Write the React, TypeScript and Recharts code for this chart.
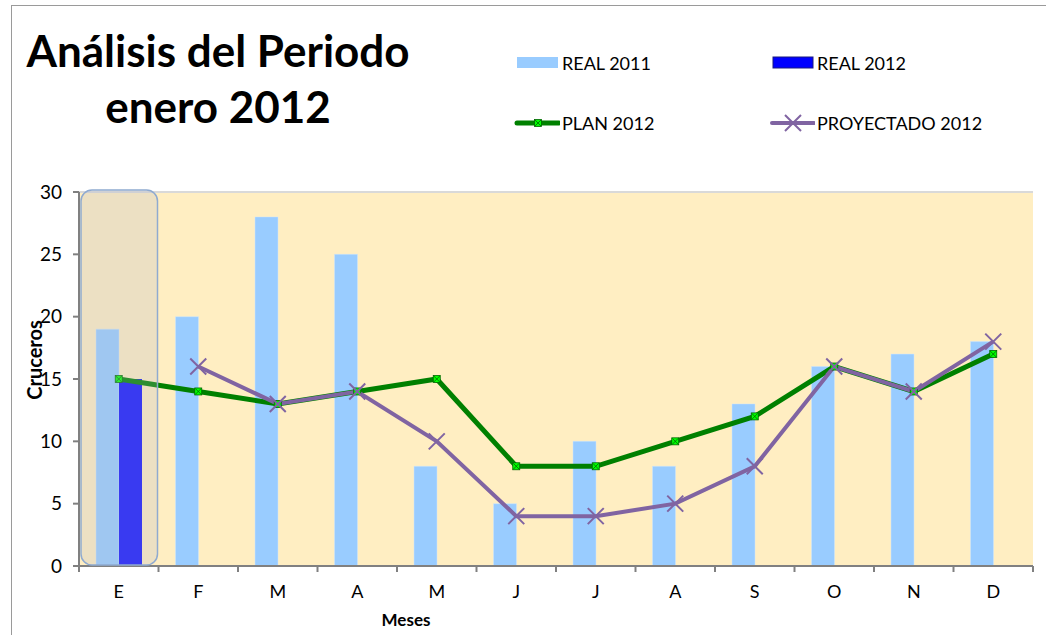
import React from "react";
import {
  ComposedChart,
  Bar,
  Line,
  XAxis,
  YAxis,
  CartesianGrid,
  ReferenceArea,
  ReferenceLine,
} from "recharts";

const months = ["E", "F", "M", "A", "M", "J", "J", "A", "S", "O", "N", "D"];
const real2011 = [19, 20, 28, 25, 8, 5, 10, 8, 13, 16, 17, 18];
const real2012: (number | null)[] = [15, null, null, null, null, null, null, null, null, null, null, null];
const plan2012 = [15, 14, 13, 14, 15, 8, 8, 10, 12, 16, 14, 17];
const proyectado2012: (number | null)[] = [null, 16, 13, 14, 10, 4, 4, 5, 8, 16, 14, 18];
const yTicks = [0, 5, 10, 15, 20, 25, 30];

const data = months.map((m, i) => ({
  key: `${m}-${i}`,
  mes: m,
  real2011: real2011[i],
  real2012: real2012[i],
  plan: plan2012[i],
  proy: proyectado2012[i],
}));

const W = 1046;
const H = 635;
const FONT = "Lato, 'Open Sans', sans-serif";
const BAND = (1033 - 79) / months.length;

// tick label centred in band, tick marks on band edges
function MonthTick(props: any) {
  const { x, y, payload, index } = props;
  return (
    <g>
      <line x1={x - BAND / 2} x2={x - BAND / 2} y1={y - 8} y2={y - 2} stroke="#808080" strokeWidth={2} />
      {index === months.length - 1 && (
        <line x1={x + BAND / 2} x2={x + BAND / 2} y1={y - 8} y2={y - 2} stroke="#808080" strokeWidth={2} />
      )}
      <text x={x} y={y + 17} textAnchor="middle" dominantBaseline="central" fontSize={18} fill="#000" fontFamily={FONT}>
        {months[index] ?? payload.value}
      </text>
    </g>
  );
}

function PlanDot(props: any) {
  const { cx, cy, index } = props;
  if (cx == null || cy == null) return <g key={`pd-${index}`} />;
  return (
    <g key={`pd-${index}`}>
      <rect x={cx - 3.5} y={cy - 3.5} width={7} height={7} fill="#00FF00" stroke="#006400" strokeWidth={0.8} />
      <path d={`M${cx - 3} ${cy - 3}L${cx + 3} ${cy + 3}M${cx + 3} ${cy - 3}L${cx - 3} ${cy + 3}`} stroke="#006400" strokeWidth={0.8} />
    </g>
  );
}

function ProyDot(props: any) {
  const { cx, cy, index } = props;
  if (cx == null || cy == null) return <g key={`yd-${index}`} />;
  return (
    <path
      key={`yd-${index}`}
      d={`M${cx - 8} ${cy - 8}L${cx + 8} ${cy + 8}M${cx + 8} ${cy - 8}L${cx - 8} ${cy + 8}`}
      stroke="#8064A2"
      strokeWidth={2}
    />
  );
}

function LegendItem({ left, top, icon, label }: { left: number; top: number; icon: React.ReactNode; label: string }) {
  return (
    <div style={{ position: "absolute", left, top, display: "flex", alignItems: "center", height: 24 }}>
      <svg width={46} height={24} style={{ display: "block" }}>
        {icon}
      </svg>
      <span style={{ fontFamily: FONT, fontSize: 18, color: "#000", marginLeft: 2 }}>{label}</span>
    </div>
  );
}

export default function App() {
  return (
    <div style={{ position: "absolute", left: 0, top: 0, width: W, height: H, background: "#fff", overflow: "hidden" }}>
      {/* frame */}
      <div style={{ position: "absolute", left: 11, top: 5, right: 0, bottom: 0, borderTop: "1.5px solid #9a9a9a", borderLeft: "1.5px solid #9a9a9a" }} />

      {/* title */}
      <div
        style={{
          position: "absolute",
          left: 0,
          top: 22,
          width: 436,
          textAlign: "center",
          fontFamily: FONT,
          fontWeight: 700,
          fontSize: 44,
          lineHeight: "56px",
          color: "#000",
        }}
      >
        Análisis del Periodo
        <br />
        enero 2012
      </div>

      {/* legend */}
      <LegendItem left={514} top={51} label="REAL 2011" icon={<rect x={3} y={6} width={41} height={11} fill="#99CCFF" />} />
      <LegendItem
        left={769}
        top={51}
        label="REAL 2012"
        icon={<rect x={4} y={6} width={40} height={11} fill="#0000FF" stroke="#1a1a80" strokeWidth={1} />}
      />
      <LegendItem
        left={514}
        top={111}
        label="PLAN 2012"
        icon={
          <g>
            <line x1={3} x2={45} y1={12} y2={12} stroke="#008000" strokeWidth={5} strokeLinecap="round" />
            <PlanDot cx={24} cy={12} index={0} />
          </g>
        }
      />
      <LegendItem
        left={769}
        top={111}
        label="PROYECTADO 2012"
        icon={
          <g>
            <line x1={3} x2={45} y1={12} y2={12} stroke="#8064A2" strokeWidth={4} strokeLinecap="round" />
            <ProyDot cx={24} cy={12} index={0} />
          </g>
        }
      />

      <div style={{ position: "absolute", left: 0, top: 0 }}>
        <ComposedChart
          width={W}
          height={H}
          data={data}
          margin={{ top: 192, right: 13, bottom: 39, left: 39 }}
          barCategoryGap={17}
          barGap={0}
        >
          <CartesianGrid horizontal={false} vertical={false} fill="#FFEEC2" />
          <ReferenceLine y={30} stroke="#d9d9d9" strokeWidth={2} />
          <XAxis
            dataKey="key"
            height={30}
            axisLine={{ stroke: "#808080", strokeWidth: 2 }}
            tickLine={false}
            tick={<MonthTick />}
            interval={0}
          />
          <YAxis
            width={40}
            domain={[0, 30]}
            ticks={yTicks}
            interval={0}
            axisLine={{ stroke: "#808080", strokeWidth: 2 }}
            tickLine={{ stroke: "#808080", strokeWidth: 2 }}
            tickSize={6}
            tickMargin={11}
            tick={{ fill: "#000", fontSize: 19, fontFamily: FONT }}
          />
          <Bar dataKey="real2011" fill="#99CCFF" stroke="#cfe6ff" strokeWidth={0.5} isAnimationActive={false} />
          <Bar dataKey="real2012" fill="#1010FF" isAnimationActive={false} />
          <Line
            dataKey="plan"
            stroke="#008000"
            strokeWidth={5}
            dot={<PlanDot />}
            activeDot={false}
            isAnimationActive={false}
          />
          <Line
            dataKey="proy"
            stroke="#8064A2"
            strokeWidth={4}
            dot={<ProyDot />}
            activeDot={false}
            isAnimationActive={false}
          />
          <ReferenceArea
            x1={data[0].key}
            x2={data[0].key}
            y1={0}
            y2={30}
            zIndex={2000}
            shape={(p: any) => (
              <rect
                x={p.x + 2}
                y={p.y - 2}
                width={p.width - 3}
                height={p.height + 1}
                rx={11}
                ry={11}
                fill="#B4B8C8"
                fillOpacity={0.25}
                stroke="#8FAAD0"
                strokeWidth={1.5}
              />
            )}
          />
        </ComposedChart>
      </div>

      {/* axis titles */}
      <div
        style={{
          position: "absolute",
          left: 34,
          top: 360,
          transform: "translate(-50%, -50%) rotate(-90deg)",
          fontFamily: FONT,
          fontWeight: 700,
          fontSize: 20,
          color: "#000",
          whiteSpace: "nowrap",
        }}
      >
        Cruceros
      </div>
      <div
        style={{
          position: "absolute",
          left: 406,
          top: 619,
          transform: "translate(-50%, -50%)",
          fontFamily: FONT,
          fontWeight: 700,
          fontSize: 17,
          color: "#000",
        }}
      >
        Meses
      </div>
    </div>
  );
}
